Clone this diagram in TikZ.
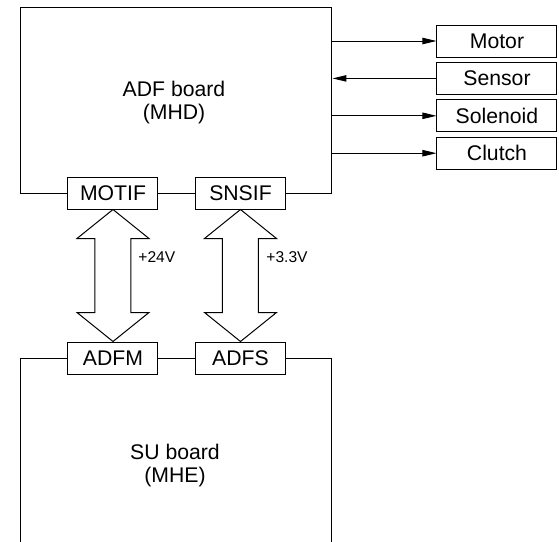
\documentclass[tikz,border=0pt]{standalone}
\usepackage{fontspec}
\setmainfont{Liberation Sans}
\usetikzlibrary{
	arrows.meta,
	positioning,
	calc
}

\begin{document}
\begin{tikzpicture}[x=0.5pt, y=-0.5pt,
    board/.style={draw, line width=0.5pt, inner sep=0pt},
    port/.style={draw, fill=white, line width=0.5pt, minimum width=45pt,
        minimum height=16pt, inner sep=0pt, font=\fontsize{10.6}{12}\selectfont},
    unit/.style={draw, line width=0.5pt, minimum width=60pt,
        minimum height=16pt, inner sep=0pt, font=\fontsize{10.6}{12}\selectfont},
    boardtext/.style={align=center, inner sep=0pt, font=\fontsize{10.6}{11.5}\selectfont},
    sig/.style={-{Triangle[length=7pt,width=3.2pt]}, line width=0.5pt},
    bus/.style={line width=0.5pt, line join=miter},
    volt/.style={font=\fontsize{7.8}{9}\selectfont, inner sep=1pt}
]

% Page frame (SU board runs off the bottom edge)
\clip (0,0) rectangle (559,542);

% Helper macro for a double bus arrow between two ports
% Arguments: upper port, lower port
\def\busarrow#1#2{
    \draw[bus] (#1.south) -- ++(36,29) -- ++(-18,0)
        |- ($(#2.north)+(18,-29)$) -- ++(18,0) -- (#2.north)
        -- ++(-36,-29) -- ++(18,0)
        |- ($(#1.south)+(-18,29)$) -- ++(-18,0) -- cycle;
}

% Boards
\node[board, minimum width=155.5pt, minimum height=93pt] (adf) at (176.5,100) {};
\node[boardtext] (adftext) at (174,103) {ADF board\\(MHD)};
\node[board, minimum width=155.5pt, minimum height=106pt] (su) at (176.5,464) {};
\node[boardtext] (sutext) at (175,466) {SU board\\(MHE)};

% Connectors on the board edges
\node[port] (motif) at (113,193) {MOTIF};
\node[port] (snsif) at (240.5,193) {SNSIF};
\node[port] (adfm) at (113,358) {ADFM};
\node[port] (adfs) at (240.5,358) {ADFS};

% Loads
\node[unit] (motor) at (497,41) {Motor};
\node[unit, below=2.2pt of motor] (sensor) {Sensor};
\node[unit, below=2.2pt of sensor] (solenoid) {Solenoid};
\node[unit, below=2.2pt of solenoid] (clutch) {Clutch};

\draw[sig] (adf.east |- motor) -- (motor);
\draw[sig] (sensor) -- (adf.east |- sensor);
\draw[sig] (adf.east |- solenoid) -- (solenoid);
\draw[sig] (adf.east |- clutch) -- (clutch);

% Supply buses
\busarrow{motif}{adfm}
\busarrow{snsif}{adfs}
\node[volt, anchor=west] (v24) at (136,257) {+24V};
\node[volt, anchor=west] (v33) at (264,257) {+3.3V};

\end{tikzpicture}
\end{document}
